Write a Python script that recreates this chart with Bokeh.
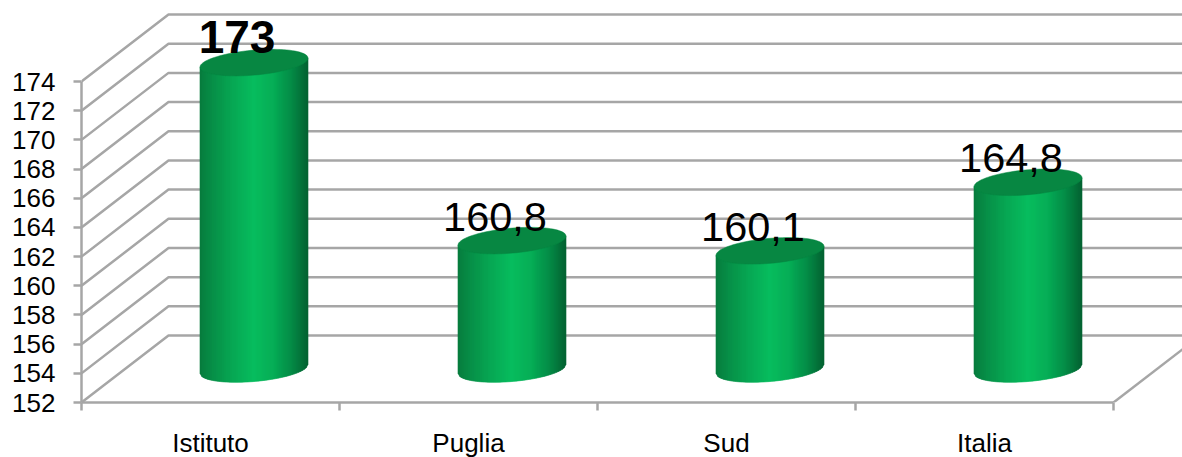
import numpy as np
from bokeh.plotting import figure
from bokeh.models import LinearAxis, FixedTicker, ColumnDataSource
from bokeh.core.properties import value
from bokeh.embed import file_html
from bokeh.resources import INLINE

categories = ["Istituto", "Puglia", "Sud", "Italia"]
values = [173, 160.8, 160.1, 164.8]
labels = ["173", "160,8", "160,1", "164,8"]
y_ticks = list(range(152, 175, 2))

GREY = "#a6a6a6"
FONT = "Liberation Sans"
PX_X = 258.0      # pixels per category
PX_Y = 14.59      # pixels per value unit
DEPTH_X = 87 / PX_X
DEPTH_Y = 67 / PX_Y
A = 54.0 / PX_X   # cylinder half width
B = 12.5 / PX_Y   # ellipse half height
TILT = 4.5 / PX_Y
STOPS_POS = [0.0, 0.12, 0.3, 0.5, 0.68, 0.85, 1.0]
STOPS_COL = [(0x07, 0x7c, 0x3e), (0x06, 0x90, 0x48), (0x06, 0xa8, 0x54), (0x06, 0xbe, 0x5f),
             (0x06, 0xae, 0x57), (0x05, 0x8c, 0x47), (0x03, 0x62, 0x32)]

p = figure(width=1182, height=457, x_range=(0, 1101 / PX_X), y_range=(152, 152 + 402 / PX_Y),
           toolbar_location=None, output_backend="svg", x_axis_type=None, y_axis_type=None,
           min_border_left=81, min_border_right=0, min_border_top=0, min_border_bottom=55,
           outline_line_color=None, background_fill_color="white", border_fill_color="white")
p.frame_width = 1101
p.frame_height = 402
p.grid.visible = False

# wall / floor lines
xs, ys = [], []
for t in y_ticks:
    xs.append([0, DEPTH_X, 1101 / PX_X])
    ys.append([t, t + DEPTH_Y, t + DEPTH_Y])
xs.append([len(categories), len(categories) + DEPTH_X])
ys.append([152, 152 + DEPTH_Y])
p.multi_line(xs, ys, line_color=GREY, line_width=2.5)

# axes
ya = LinearAxis(ticker=FixedTicker(ticks=y_ticks), bounds=(152, 174),
                axis_line_color=GREY, axis_line_width=2.5,
                major_tick_line_color=GREY, major_tick_line_width=2.5,
                major_tick_out=8, major_tick_in=0, minor_tick_out=0, minor_tick_in=0,
                major_label_standoff=18, major_label_text_font=FONT,
                major_label_text_font_size="26px", major_label_text_color="black")
p.add_layout(ya, "left")
centers = [i + 0.5 for i in range(len(categories))]
xa = LinearAxis(ticker=FixedTicker(ticks=centers, minor_ticks=list(range(len(categories) + 1))),
                bounds=(0, len(categories)),
                major_label_overrides=dict(zip(centers, categories)),
                axis_line_color=GREY, axis_line_width=2.5,
                major_tick_line_color=None, major_tick_out=0, major_tick_in=0,
                minor_tick_line_color=GREY, minor_tick_line_width=2.5, minor_tick_out=8, minor_tick_in=0,
                major_label_standoff=17, major_label_text_font=FONT,
                major_label_text_font_size="26px", major_label_text_color="black")
p.add_layout(xa, "below")

# cylinders
N = 54
edges = np.linspace(-1, 1, N + 1)
for i, v in enumerate(values):
    cx = i + 0.5 + DEPTH_X / 2
    base = 152 + DEPTH_Y / 2
    top = v + DEPTH_Y / 2
    px, py, col = [], [], []
    for k in range(N):
        u0, u1 = edges[k], edges[k + 1]
        mid = (k + 0.5) / N
        c = [int(np.interp(mid, STOPS_POS, [s[j] for s in STOPS_COL])) for j in range(3)]
        bot0 = base + TILT * u0 - B * np.sqrt(1 - u0 ** 2)
        bot1 = base + TILT * u1 - B * np.sqrt(1 - u1 ** 2)
        px.append([cx + A * u0, cx + A * u1, cx + A * u1, cx + A * u0])
        py.append([bot0, bot1, top + TILT * u1, top + TILT * u0])
        col.append("#%02x%02x%02x" % tuple(c))
    p.patches(px, py, fill_color=col, line_color=col, line_width=0.6)
    t = np.linspace(0, 2 * np.pi, 90)
    p.patch(cx + A * np.cos(t), top + TILT * np.cos(t) + B * np.sin(t),
            fill_color="#078742", line_color="#078742", line_width=0.5)

# value labels
lx = [i + 0.5 + DEPTH_X / 2 for i in range(len(values))]
ly = [v + DEPTH_Y / 2 for v in values]
p.text(x="x", y="y", text="t", source=ColumnDataSource(dict(x=lx[:1], y=ly[:1], t=labels[:1])),
       text_font=value(FONT), text_font_size=value("46px"), text_font_style="bold",
       text_color="black", text_align="center", text_baseline="alphabetic", x_offset=-17, y_offset=-26)
p.text(x="x", y="y", text="t", source=ColumnDataSource(dict(x=lx[1:], y=ly[1:], t=labels[1:])),
       text_font=value(FONT), text_font_size=value("41.5px"),
       text_color="black", text_align="center", text_baseline="alphabetic", x_offset=-17, y_offset=-24)

open("out.html", "w").write(file_html(p, INLINE))
